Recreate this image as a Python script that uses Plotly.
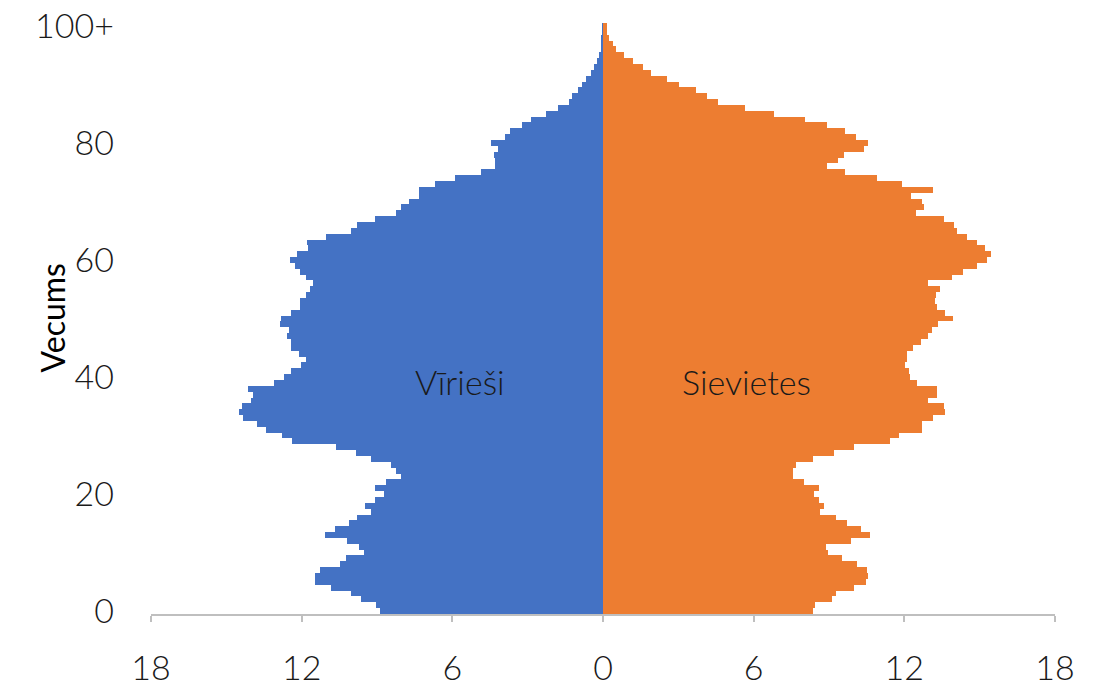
import plotly.graph_objects as go

# Vecuma grupas 0..100+
vecums = list(range(101))

# Vīrieši (tūkst.) pēc vecuma
virieši = [
    8.90, 9.03, 9.63, 10.05, 10.85, 11.46, 11.46, 11.28, 10.49, 10.25,
    9.50, 9.70, 10.20, 11.08, 10.67, 10.12, 9.80, 9.23, 9.46, 9.06,
    8.73, 9.07, 8.63, 8.04, 8.26, 8.44, 9.23, 9.83, 10.62, 12.37,
    12.79, 13.43, 13.77, 14.35, 14.49, 14.39, 14.00, 13.93, 14.13, 13.11,
    12.71, 12.41, 12.04, 11.84, 12.12, 12.41, 12.44, 12.57, 12.50, 12.87,
    12.81, 12.44, 12.08, 12.08, 11.81, 11.68, 11.55, 11.84, 12.08, 12.28,
    12.48, 12.19, 11.75, 11.77, 11.04, 10.02, 9.79, 9.07, 8.24, 8.04,
    7.71, 7.34, 7.34, 6.69, 5.89, 4.86, 4.29, 4.29, 4.36, 4.20,
    4.46, 3.91, 3.69, 3.23, 2.85, 2.28, 1.81, 1.35, 1.22, 0.98,
    0.82, 0.66, 0.49, 0.36, 0.23, 0.16, 0.09, 0.07, 0.05, 0.03,
    0.03,
]

# Sievietes (tūkst.) pēc vecuma
sievietes = [
    8.36, 8.43, 9.10, 9.28, 9.98, 10.49, 10.55, 10.51, 10.12, 9.52,
    8.95, 8.88, 9.88, 10.62, 10.29, 9.72, 9.28, 8.66, 8.82, 8.62,
    8.40, 8.62, 8.00, 7.56, 7.56, 7.67, 8.36, 9.19, 9.98, 11.41,
    11.77, 12.70, 12.70, 13.16, 13.63, 13.56, 12.96, 13.30, 13.30, 12.50,
    12.24, 12.17, 12.04, 12.10, 12.10, 12.33, 12.67, 12.94, 13.12, 13.36,
    13.92, 13.63, 13.30, 13.23, 13.26, 13.43, 12.96, 13.89, 14.35, 14.91,
    15.31, 15.44, 15.22, 14.91, 14.49, 14.09, 13.98, 13.59, 12.47, 12.77,
    12.70, 12.26, 13.16, 11.90, 10.91, 9.65, 8.92, 9.36, 9.59, 10.41,
    10.54, 10.09, 9.63, 8.92, 8.04, 6.81, 5.64, 4.58, 4.16, 3.70,
    3.03, 2.54, 1.91, 1.58, 1.18, 0.82, 0.52, 0.38, 0.25, 0.16,
    0.16,
]

x_ticks = [-18, -12, -6, 0, 6, 12, 18]
x_tick_text = ["18", "12", "6", "0", "6", "12", "18"]
y_ticks = [0, 20, 40, 60, 80, 100]
y_tick_text = ["0", "20", "40", "60", "80", "100+"]

FONT = "Lato"
TEXT_COLOR = "#1a1a1a"

fig = go.Figure()

fig.add_trace(go.Bar(
    y=vecums,
    x=[-v for v in virieši],
    orientation="h",
    name="Vīrieši",
    marker=dict(color="#4472C4", line=dict(width=0)),
    showlegend=False,
))
fig.add_trace(go.Bar(
    y=vecums,
    x=sievietes,
    orientation="h",
    name="Sievietes",
    marker=dict(color="#ED7D31", line=dict(width=0)),
    showlegend=False,
))

# Uzraksti uz stabiņiem
fig.add_annotation(x=-5.7, y=39.3, text="Vīrieši", showarrow=False,
                   font=dict(size=34, color=TEXT_COLOR, family=FONT, weight=300))
fig.add_annotation(x=5.7, y=39.3, text="Sievietes", showarrow=False,
                   font=dict(size=34, color=TEXT_COLOR, family=FONT, weight=300))

# Ass nosaukums
fig.add_annotation(xref="paper", yref="paper", x=-0.1095, y=0.5, text="Vecums",
                   textangle=-90, showarrow=False, xanchor="center", yanchor="middle",
                   font=dict(size=32, color="black", family=FONT, weight=400))

fig.update_layout(
    width=1097,
    height=693,
    margin=dict(l=151, r=42, t=23, b=79, autoexpand=False),
    barmode="overlay",
    bargap=0,
    plot_bgcolor="white",
    paper_bgcolor="white",
    font=dict(family=FONT, size=34, color=TEXT_COLOR, weight=300),
    xaxis=dict(
        range=[-18, 18],
        tickmode="array",
        tickvals=x_ticks,
        ticktext=x_tick_text,
        showgrid=False,
        zeroline=False,
        showline=True,
        linecolor="#BFBFBF",
        linewidth=1.5,
        ticks="outside",
        ticklen=6,
        tickcolor="#BFBFBF",
        tickwidth=1.5,
        ticklabelstandoff=17,
        ticklabeloverflow="allow",
        automargin=False,
        tickfont=dict(size=34, family=FONT, color=TEXT_COLOR, weight=300),
    ),
    yaxis=dict(
        range=[-0.5, 100.5],
        tickmode="array",
        tickvals=y_ticks,
        ticktext=y_tick_text,
        showgrid=False,
        zeroline=False,
        showline=False,
        ticks="",
        ticklabelstandoff=36,
        ticklabeloverflow="allow",
        automargin=False,
        tickfont=dict(size=34, family=FONT, color=TEXT_COLOR, weight=300),
    ),
)

# Noņem lapas noklusēto 8px atkāpi, bez rīkjoslas
fig.write_html("out.html", config={"displayModeBar": False},
               post_script="document.body.style.margin='0';")
